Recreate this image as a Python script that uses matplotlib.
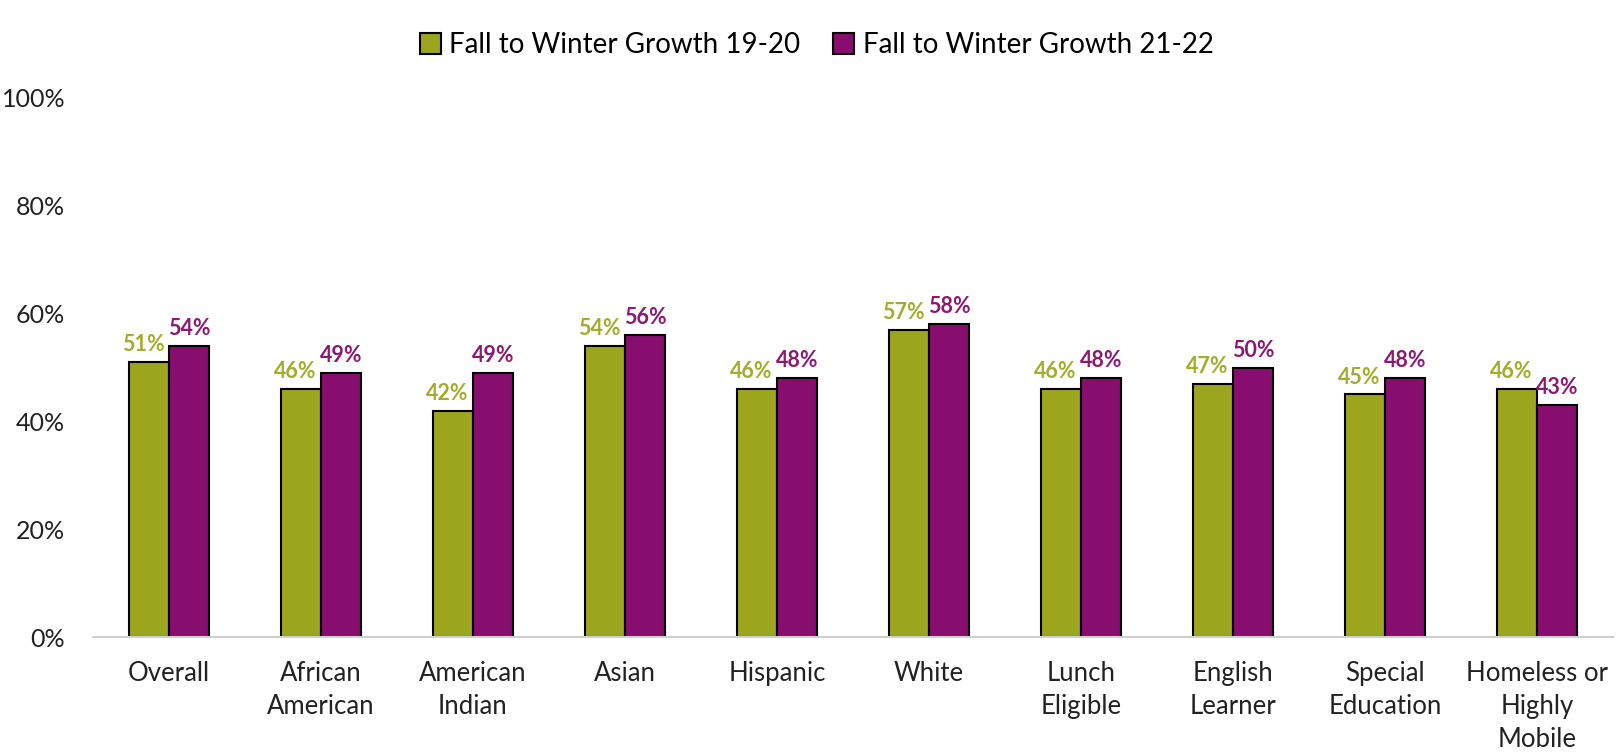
import matplotlib
matplotlib.use("Agg")
import matplotlib.pyplot as plt
import numpy as np

# chart data
categories = ["Overall", "African\nAmerican", "American\nIndian", "Asian", "Hispanic",
              "White", "Lunch\nEligible", "English\nLearner", "Special\nEducation",
              "Homeless or\nHighly\nMobile"]
growth_19_20 = [0.51, 0.46, 0.42, 0.54, 0.46, 0.57, 0.46, 0.47, 0.45, 0.46]
growth_21_22 = [0.54, 0.49, 0.49, 0.56, 0.48, 0.58, 0.48, 0.50, 0.48, 0.43]
series_names = ["Fall to Winter Growth 19-20", "Fall to Winter Growth 21-22"]
yticks = [0, 0.2, 0.4, 0.6, 0.8, 1.0]

green = "#9BA51E"
purple = "#870E6E"
green_txt = "#A3AC2C"
purple_txt = "#8A1A74"

plt.rcParams['font.family'] = ['Lato', 'DejaVu Sans']

fig = plt.figure(figsize=(16.17, 7.52), dpi=100)
ax = fig.add_axes([0.0575, 0.1529, 0.94, 0.7168])

x = np.arange(len(categories))
w = 0.265
b1 = ax.bar(x - w/2, growth_19_20, w, color=green, edgecolor="black", linewidth=1.5,
            label=series_names[0])
b2 = ax.bar(x + w/2, growth_21_22, w, color=purple, edgecolor="black", linewidth=1.5,
            label=series_names[1])

# value labels, green ones nudged left like the original
for xi, v in zip(x, growth_19_20):
    ax.annotate(f"{v*100:.0f}%", (xi - w/2, v), xytext=(-4, 5), textcoords="offset points",
                ha="center", va="bottom", fontsize=15.5, fontweight="bold", color=green_txt)
for xi, v in zip(x, growth_21_22):
    ax.annotate(f"{v*100:.0f}%", (xi + w/2, v), xytext=(0, 5), textcoords="offset points",
                ha="center", va="bottom", fontsize=15.5, fontweight="bold", color=purple_txt)

ax.set_xlim(-0.5, len(categories) - 0.5)
ax.set_ylim(0, 1.0)
ax.set_yticks(yticks)
ax.set_yticklabels([f"{t*100:.0f}%" for t in yticks], fontsize=18, color="#222222")
ax.set_xticks(x)
ax.set_xticklabels(categories, fontsize=18.5, color="#222222", linespacing=1.42)
ax.tick_params(axis="both", length=0)
ax.tick_params(axis="y", pad=20)
ax.tick_params(axis="x", pad=17)

for s in ["top", "right", "left"]:
    ax.spines[s].set_visible(False)
ax.spines["bottom"].set_color("#d0d0d0")
ax.spines["bottom"].set_linewidth(1.5)

fig.legend(handles=[b1, b2], loc="center", bbox_to_anchor=(0.505, 0.94), ncol=2,
           frameon=False, fontsize=20, handlelength=0.75, handleheight=0.75,
           handletextpad=0.3, columnspacing=1.2)

fig.savefig("out.png", dpi=100)
